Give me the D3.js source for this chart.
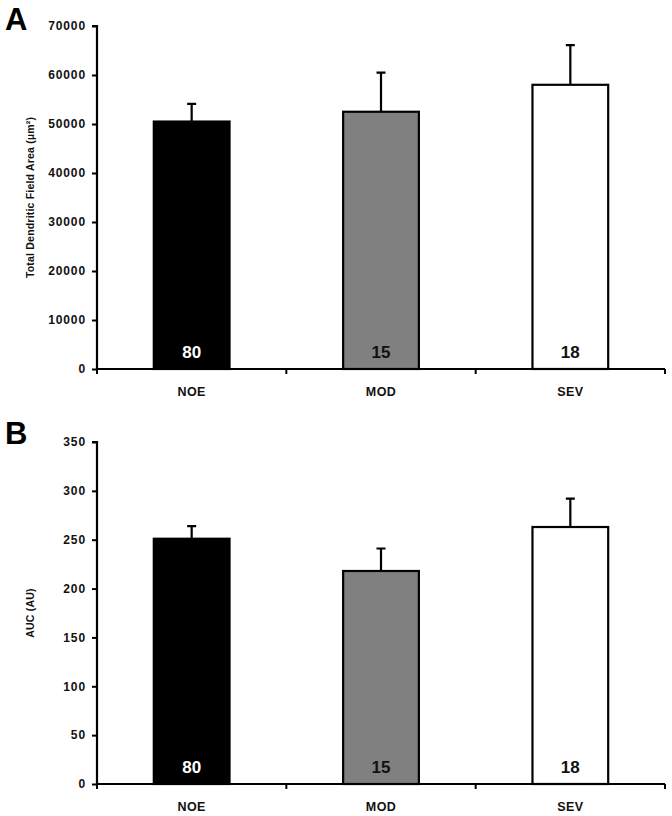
<!DOCTYPE html>
<html><head><meta charset="utf-8">
<script src="https://cdn.jsdelivr.net/npm/d3@7"></script>
<style>body{margin:0;background:#fff}svg{display:block}</style>
</head><body>
<script>
const categories = ["NOE", "MOD", "SEV"];
const fills = ["#000000", "#808080", "#ffffff"];
const nLabels = ["80", "15", "18"];
const nColors = ["#ffffff", "#111111", "#111111"];
const areaMean = [50500, 52500, 58000];
const areaErr = [3600, 8000, 8100];
const areaTicks = [0, 10000, 20000, 30000, 40000, 50000, 60000, 70000];
const aucMean = [251, 218, 263];
const aucErr = [13, 23, 29];
const aucTicks = [0, 50, 100, 150, 200, 250, 300, 350];

const W = 672, H = 816;
const FONT = "Liberation Sans, Arial, sans-serif";
const svg = d3.select("body").append("svg").attr("width", W).attr("height", H);

function panel(letter, top, bottom, means, errs, ticks, title, letterY) {
  const x0 = 97, x1 = 665;
  const maxV = ticks[ticks.length - 1];
  const y = d3.scaleLinear().domain([0, maxV]).range([bottom, top]);
  const x = d3.scaleBand().domain(categories).range([x0, x1]).paddingInner(0.6).paddingOuter(0.3);
  const xb = d3.scaleBand().domain(categories).range([x0, x1]);
  const g = svg.append("g");

  g.append("text").attr("x", 5).attr("y", letterY).text(letter)
    .attr("font-family", FONT).attr("font-weight", "bold").attr("font-size", 31)
    .attr("letter-spacing", 0);

  // y axis
  const ya = g.append("g").attr("transform", `translate(${x0},0)`)
    .call(d3.axisLeft(y).tickValues(ticks).tickSize(5).tickPadding(6).tickFormat(d3.format("d")));
  ya.select(".domain").attr("stroke-width", 2.2).attr("d", `M-5,${y(maxV)}H0V${bottom}`);
  ya.selectAll(".tick line").attr("stroke-width", 2);
  ya.selectAll("text").attr("font-family", FONT).attr("font-weight", "bold").attr("font-size", 12)
    .attr("letter-spacing", 0.9).attr("fill", "#111");

  // x axis
  const xa = g.append("g").attr("transform", `translate(0,${bottom})`)
    .call(d3.axisBottom(xb).tickSize(0).tickPadding(18));
  xa.select(".domain").attr("stroke-width", 2.2).attr("d", `M${x0},0H${x1}`);
  xa.selectAll("text").attr("font-family", FONT).attr("font-weight", "bold").attr("font-size", 12.5)
    .attr("letter-spacing", 0.4).attr("fill", "#111");
  g.selectAll(".xt").data([x0, ...categories.map(c => xb(c) + xb.bandwidth())]).enter().append("line")
    .attr("x1", d => d).attr("x2", d => d).attr("y1", bottom).attr("y2", bottom + 5)
    .attr("stroke", "#000").attr("stroke-width", 2);

  // error bars
  g.selectAll(".eb").data(categories).enter().append("path")
    .attr("d", (c, i) => {
      const cx = x(c) + x.bandwidth() / 2;
      const yt = y(means[i] + errs[i]);
      return `M${cx},${y(means[i])}V${yt}M${cx - 4.5},${yt}H${cx + 4.5}`;
    })
    .attr("fill", "none").attr("stroke", "#000").attr("stroke-width", 2.2);

  // bars
  g.selectAll(".bar").data(categories).enter().append("rect")
    .attr("x", c => x(c)).attr("width", x.bandwidth())
    .attr("y", (c, i) => y(means[i])).attr("height", (c, i) => bottom - y(means[i]))
    .attr("fill", (c, i) => fills[i]).attr("stroke", "#000").attr("stroke-width", 2.2);

  g.selectAll(".nl").data(categories).enter().append("text")
    .attr("x", c => x(c) + x.bandwidth() / 2).attr("y", bottom - 11)
    .attr("text-anchor", "middle").text((c, i) => nLabels[i])
    .attr("fill", (c, i) => nColors[i])
    .attr("font-family", "Liberation Sans Narrow, Arial Narrow, Liberation Sans, sans-serif")
    .attr("font-weight", "bold").attr("font-size", 17);

  g.append("text").attr("transform", `translate(34,${(top + bottom) / 2}) rotate(-90)`)
    .attr("text-anchor", "middle").text(title)
    .attr("font-family", FONT).attr("font-weight", "bold").attr("font-size", 10.5)
    .attr("letter-spacing", 0.2).attr("fill", "#111");
}

panel("A", 26, 369, areaMean, areaErr, areaTicks, "Total Dendritic Field Area (µm²)", 30);
panel("B", 442, 784, aucMean, aucErr, aucTicks, "AUC (AU)", 444);
</script>
</body></html>
